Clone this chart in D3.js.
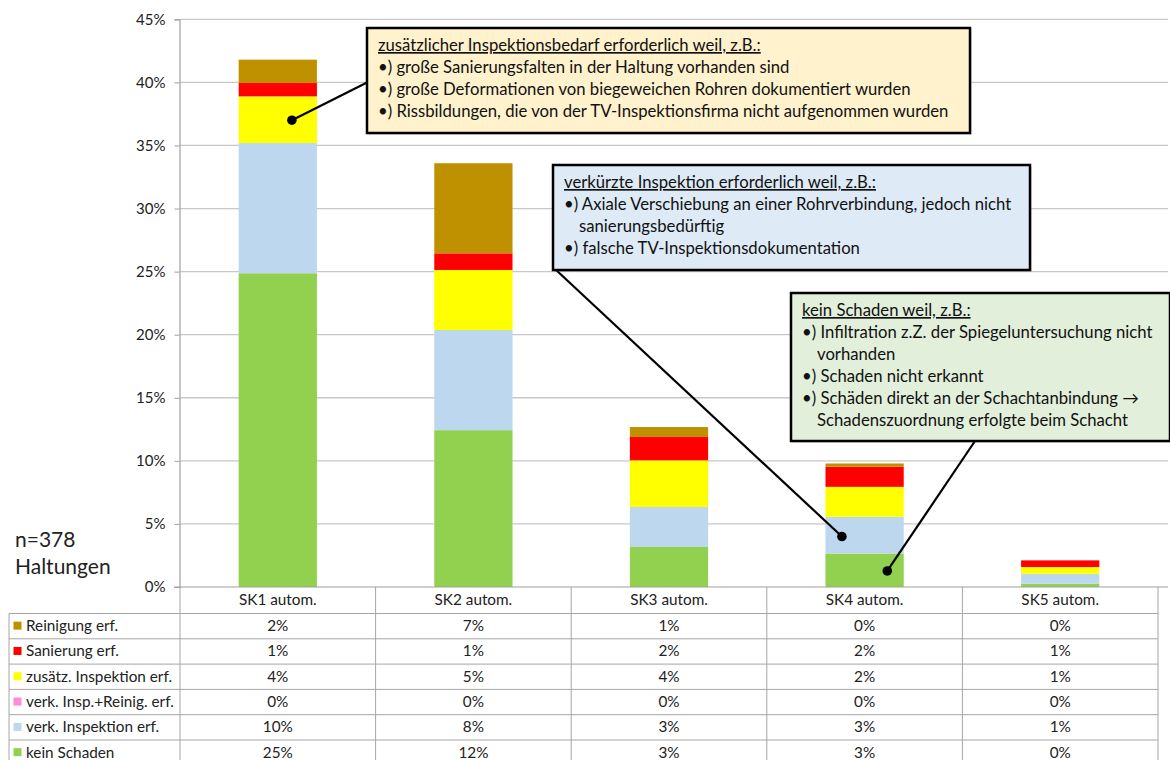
<!DOCTYPE html>
<html><head><meta charset="utf-8">
<script src="https://cdn.jsdelivr.net/npm/d3@7"></script>
<style>
body{margin:0;background:#fff;}
svg{display:block;font-family:Lato,"Noto Sans",sans-serif;}
</style></head>
<body><svg id="c" width="1170" height="760"></svg>
<script>
// ---- data (percent of 378 Haltungen) ----
const categories = ["SK1 autom.", "SK2 autom.", "SK3 autom.", "SK4 autom.", "SK5 autom."];
const seriesNames = ["kein Schaden", "verk. Inspektion erf.", "verk. Insp.+Reinig. erf.", "zusätz. Inspektion erf.", "Sanierung erf.", "Reinigung erf."];
const keinSchaden    = [24.87, 12.43, 3.17, 2.65, 0.26];
const verkInsp       = [10.32, 7.94, 3.17, 2.91, 0.79];
const verkInspReinig = [0, 0, 0, 0, 0];
const zusaetzInsp    = [3.70, 4.76, 3.70, 2.38, 0.53];
const sanierung      = [1.06, 1.32, 1.85, 1.59, 0.53];
const reinigung      = [1.85, 7.14, 0.79, 0.26, 0];
const seriesColors = ["#92D050", "#BDD7EE", "#FF8AD8", "#FFFF00", "#FF0000", "#BF9000"];
const yTicks = [0, 5, 10, 15, 20, 25, 30, 35, 40, 45];
const tableOrder = [5, 4, 3, 2, 1, 0]; // rows top to bottom

const seriesValues = [keinSchaden, verkInsp, verkInspReinig, zusaetzInsp, sanierung, reinigung];
const rows = categories.map((c, i) => {
  const o = {cat: c};
  seriesNames.forEach((s, k) => o[s] = seriesValues[k][i]);
  return o;
});

const svg = d3.select("#c");
const x = d3.scaleBand().domain(categories).range([180, 1158]).padding(0);
const y = d3.scaleLinear().domain([0, 45]).range([587, 19.3]);
const barW = x.step() * 0.4;
const cx = c => x(c) + x.step() / 2;

// gridlines
svg.append("g").selectAll("line").data(yTicks.filter(t => t > 0)).join("line")
  .attr("x1", 180).attr("x2", 1168)
  .attr("y1", d => y(d)).attr("y2", d => y(d))
  .attr("stroke", "#C8C8C8").attr("stroke-width", 1.3);

// y axis
const yAxis = d3.axisLeft(y).tickValues(yTicks).tickFormat(d => d + "%").tickSize(5).tickPadding(9);
const ga = svg.append("g").attr("transform", "translate(179.5,0)").call(yAxis);
ga.select(".domain").attr("stroke", "#A0A0A0").attr("stroke-width", 1.2);
ga.selectAll(".tick line").attr("stroke", "#A0A0A0");
ga.selectAll(".tick text").attr("font-size", 15).attr("fill", "#222").attr("font-family", "Lato,sans-serif");

// stacked bars
const stack = d3.stack().keys(seriesNames)(rows);
svg.append("g").selectAll("g").data(stack).join("g")
  .attr("fill", (d, i) => seriesColors[i])
  .selectAll("rect").data(d => d).join("rect")
  .attr("x", d => cx(d.data.cat) - barW / 2)
  .attr("width", barW)
  .attr("y", d => y(d[1]))
  .attr("height", d => Math.max(0, y(d[0]) - y(d[1])));

// baseline
svg.append("line").attr("x1", 174).attr("x2", 1168).attr("y1", y(0)).attr("y2", y(0))
  .attr("stroke", "#A0A0A0").attr("stroke-width", 1.2);

// data table
const tTop = 587, hdrH = 26.5, rowH = 25.3, tLeft = 9, tRight = 1158;
const tg = svg.append("g");
const lineC = "#A6A6A6";
categories.concat([null]).forEach((c, i) => {
  const xx = 180 + i * x.step();
  tg.append("line").attr("x1", xx).attr("x2", xx).attr("y1", tTop).attr("y2", 760).attr("stroke", lineC);
});
tg.append("line").attr("x1", tLeft).attr("x2", tLeft).attr("y1", tTop + hdrH).attr("y2", 760).attr("stroke", lineC);
for (let r = 0; r <= 6; r++) {
  const yy = tTop + hdrH + r * rowH;
  tg.append("line").attr("x1", tLeft).attr("x2", tRight).attr("y1", yy).attr("y2", yy).attr("stroke", lineC);
}
const tfs = 15.3;
tg.selectAll("text.hdr").data(categories).join("text").attr("class", "hdr")
  .attr("x", d => cx(d)).attr("y", tTop + hdrH / 2 + 5).attr("text-anchor", "middle")
  .attr("font-size", tfs).attr("fill", "#222").text(d => d);
tableOrder.forEach((k, r) => {
  const yc = tTop + hdrH + r * rowH + rowH / 2;
  tg.append("rect").attr("x", 13.5).attr("y", yc - 4.5).attr("width", 8).attr("height", 8).attr("fill", seriesColors[k]);
  tg.append("text").attr("x", 26).attr("y", yc + 5).attr("font-size", tfs).attr("fill", "#222").text(seriesNames[k]);
  categories.forEach((c, i) => {
    tg.append("text").attr("x", cx(c)).attr("y", yc + 5).attr("text-anchor", "middle")
      .attr("font-size", tfs).attr("fill", "#222").text(Math.round(seriesValues[k][i]) + "%");
  });
});

// n label
svg.append("text").attr("x", 15).attr("y", 547).attr("font-size", 21).attr("fill", "#222").text("n=378");
svg.append("text").attr("x", 15).attr("y", 574).attr("font-size", 21).attr("fill", "#222").text("Haltungen");

// annotations
function callout(box, lines, fill, anchor, dot) {
  const g = svg.append("g");
  g.append("line").attr("x1", anchor[0]).attr("y1", anchor[1]).attr("x2", dot[0]).attr("y2", dot[1])
    .attr("stroke", "#000").attr("stroke-width", 2.2);
  g.append("circle").attr("cx", dot[0]).attr("cy", dot[1]).attr("r", 4.8).attr("fill", "#000");
  g.append("rect").attr("x", box.x + 1.5).attr("y", box.y + 1.5).attr("width", box.w).attr("height", box.h).attr("fill", "#777").attr("opacity", 0.4);
  g.append("rect").attr("x", box.x).attr("y", box.y).attr("width", box.w).attr("height", box.h)
    .attr("fill", fill).attr("stroke", "#000").attr("stroke-width", 2.5);
  lines.forEach((l, i) => {
    const t = g.append("text").attr("x", box.x + 11 + (l.indent ? 15 : 0)).attr("y", box.y + 23 + i * 22)
      .attr("font-size", 16.7).attr("fill", "#111").text(l.t);
    if (l.u) t.attr("text-decoration", "underline");
  });
}
callout({x: 367, y: 28, w: 603, h: 105}, [
  {t: "zusätzlicher Inspektionsbedarf erforderlich weil, z.B.:", u: true},
  {t: "•) große Sanierungsfalten in der Haltung vorhanden sind"},
  {t: "•) große Deformationen von biegeweichen Rohren dokumentiert wurden"},
  {t: "•) Rissbildungen, die von der TV-Inspektionsfirma nicht aufgenommen wurden"}
], "#FFF2CC", [368, 82], [cx(categories[0]) + 0.18 * barW, y(37.0)]);

callout({x: 553, y: 165, w: 477, h: 105}, [
  {t: "verkürzte Inspektion erforderlich weil, z.B.:", u: true},
  {t: "•) Axiale Verschiebung an einer Rohrverbindung, jedoch nicht"},
  {t: "sanierungsbedürftig", indent: true},
  {t: "•) falsche TV-Inspektionsdokumentation"}
], "#DEEBF7", [555, 269], [cx(categories[3]) - 0.29 * barW, y(4.0)]);

callout({x: 791, y: 293, w: 379, h: 148}, [
  {t: "kein Schaden weil, z.B.:", u: true},
  {t: "•) Infiltration z.Z. der Spiegeluntersuchung nicht"},
  {t: "vorhanden", indent: true},
  {t: "•) Schaden nicht erkannt"},
  {t: "•) Schäden direkt an der Schachtanbindung →"},
  {t: "Schadenszuordnung erfolgte beim Schacht", indent: true}
], "#E2EFDA", [975, 441], [cx(categories[3]) + 0.29 * barW, y(1.27)]);
</script>
</body></html>
